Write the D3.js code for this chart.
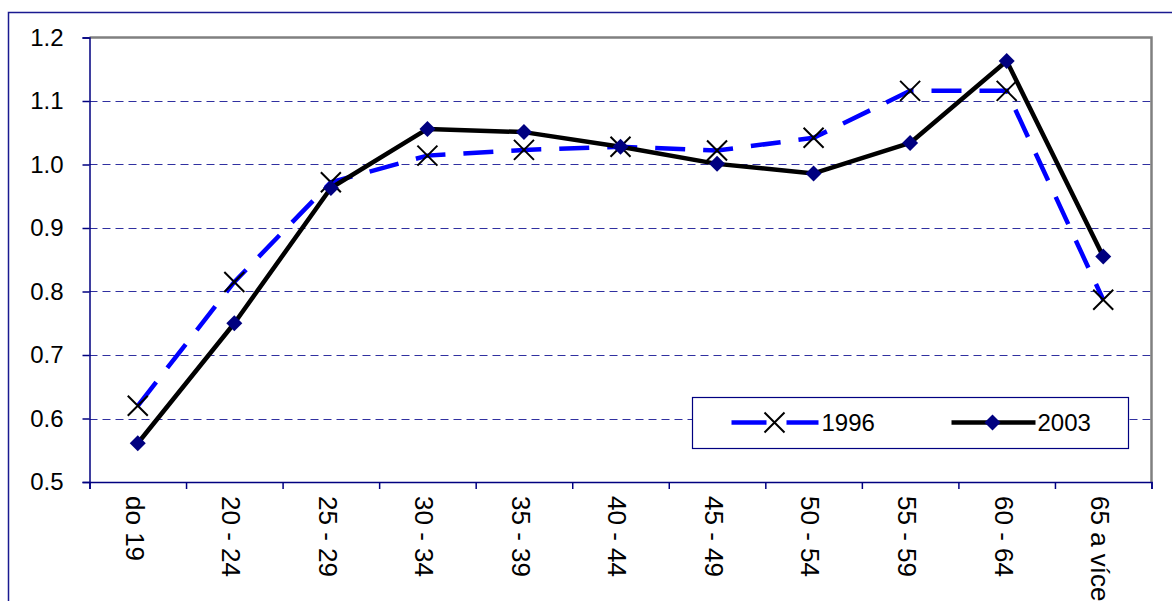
<!DOCTYPE html>
<html>
<head>
<meta charset="utf-8">
<title>1996 / 2003</title>
<script src="https://d3js.org/d3.v7.min.js"></script>
<style>
  body { margin: 0; background: #fff; }
  text { font-family: "Liberation Sans", Arial, sans-serif; fill: #000; }
  .tick text { font-size: 24px; }
</style>
</head>
<body>
<script>
// data
var categories = ["do 19", "20 - 24", "25 - 29", "30 - 34", "35 - 39", "40 - 44",
                  "45 - 49", "50 - 54", "55 - 59", "60 - 64", "65 a více"];
var values1996 = [0.620, 0.815, 0.972, 1.014, 1.023, 1.028, 1.022, 1.042, 1.116, 1.116, 0.787];
var values2003 = [0.561, 0.750, 0.963, 1.056, 1.051, 1.028, 1.001, 0.986, 1.034, 1.163, 0.855];
var yTicks = [0.5, 0.6, 0.7, 0.8, 0.9, 1.0, 1.1, 1.2];
var seriesNames = ["1996", "2003"];

var width = 1172, height = 601;
var plotLeft = 89.5, plotRight = 1151.5, plotTop = 37.5, plotBottom = 482;
var navy = "#000080";

var svg = d3.select("body").append("svg")
    .attr("width", width).attr("height", height);

// outer frame (continues past the picture)
svg.append("rect")
    .attr("x", 8.5).attr("y", 12.5)
    .attr("width", 1300).attr("height", 700)
    .attr("fill", "none").attr("stroke", "#1a1a90").attr("stroke-width", 1.5);

var x = d3.scaleBand().domain(categories).range([plotLeft, plotRight]);
var y = d3.scaleLinear().domain([0.5, 1.2]).range([plotBottom, plotTop]);
var cx = function(i) { return x(categories[i]) + x.bandwidth() / 2; };

// gridlines
svg.append("g").selectAll("line")
    .data(yTicks.filter(function(d) { return d > 0.5 && d < 1.2; }))
    .enter().append("line")
    .attr("x1", plotLeft).attr("x2", plotRight)
    .attr("y1", function(d) { return Math.round(y(d)) + 0.5; })
    .attr("y2", function(d) { return Math.round(y(d)) + 0.5; })
    .attr("stroke", "#3030a0").attr("stroke-width", 1)
    .attr("stroke-dasharray", "8,5");

// plot area border top / right
svg.append("path")
    .attr("d", "M" + plotLeft + "," + plotTop + "H" + plotRight + "V" + plotBottom)
    .attr("fill", "none").attr("stroke", "#808080").attr("stroke-width", 2.5);

// y axis
var yAxis = svg.append("g").attr("transform", "translate(" + plotLeft + ",0)")
    .call(d3.axisLeft(y).tickValues(yTicks).tickFormat(d3.format(".1f"))
        .tickSize(7).tickPadding(19));
yAxis.selectAll("line, path").attr("stroke", navy).attr("stroke-width", 1.5);

// x axis: ticks at band edges, labels rotated
var edges = d3.scaleLinear().domain([0, categories.length]).range([plotLeft, plotRight]);
var xAxis = svg.append("g").attr("transform", "translate(0," + plotBottom + ")")
    .call(d3.axisBottom(edges).ticks(categories.length).tickSize(7).tickFormat(""));
xAxis.selectAll("line, path").attr("stroke", navy).attr("stroke-width", 1.5);

svg.append("g").selectAll("text").data(categories).enter().append("text")
    .attr("transform", function(d, i) {
        return "translate(" + (cx(i) - 3) + "," + (plotBottom + 14) + ") rotate(90)";
    })
    .attr("dy", "0.35em")
    .style("font-size", "26px")
    .text(function(d) { return d; });

var line = d3.line()
    .x(function(d, i) { return cx(i); })
    .y(function(d) { return y(d); });

// 1996 series
svg.append("path").datum(values1996)
    .attr("d", line).attr("fill", "none")
    .attr("stroke", "#0000ff").attr("stroke-width", 4.5)
    .attr("stroke-dasharray", "30,18");

// 2003 series
svg.append("path").datum(values2003)
    .attr("d", line).attr("fill", "none")
    .attr("stroke", "#000").attr("stroke-width", 4.5)
    .attr("stroke-linejoin", "round");

function crossMark(sel) {
    sel.append("path").attr("d", "M-10,-10L10,10M-10,10L10,-10")
        .attr("stroke", "#000").attr("stroke-width", 2).attr("fill", "none");
}
function diamondMark(sel) {
    sel.append("path").attr("d", "M0,-8L8,0L0,8L-8,0Z").attr("fill", navy);
}

svg.append("g").selectAll("g").data(values1996).enter().append("g")
    .attr("transform", function(d, i) { return "translate(" + cx(i) + "," + y(d) + ")"; })
    .call(crossMark);

svg.append("g").selectAll("g").data(values2003).enter().append("g")
    .attr("transform", function(d, i) { return "translate(" + cx(i) + "," + y(d) + ")"; })
    .call(diamondMark);

// legend
var lg = svg.append("g").attr("transform", "translate(692.5,397.5)");
lg.append("rect").attr("width", 436).attr("height", 51)
    .attr("fill", "#fff").attr("stroke", navy).attr("stroke-width", 1.2);

var l1 = lg.append("g");
l1.append("line").attr("x1", 39).attr("x2", 74).attr("y1", 25).attr("y2", 25)
    .attr("stroke", "#0000ff").attr("stroke-width", 4.5);
l1.append("line").attr("x1", 94).attr("x2", 126).attr("y1", 25).attr("y2", 25)
    .attr("stroke", "#0000ff").attr("stroke-width", 4.5);
l1.append("g").attr("transform", "translate(82,25)").call(crossMark);
l1.append("text").attr("x", 129).attr("y", 25).attr("dy", "0.35em")
    .style("font-size", "24px").text(seriesNames[0]);

var l2 = lg.append("g");
l2.append("line").attr("x1", 259).attr("x2", 343).attr("y1", 25).attr("y2", 25)
    .attr("stroke", "#000").attr("stroke-width", 4.5);
l2.append("g").attr("transform", "translate(300,25)").call(diamondMark);
l2.append("text").attr("x", 345).attr("y", 25).attr("dy", "0.35em")
    .style("font-size", "24px").text(seriesNames[1]);
</script>
</body>
</html>
